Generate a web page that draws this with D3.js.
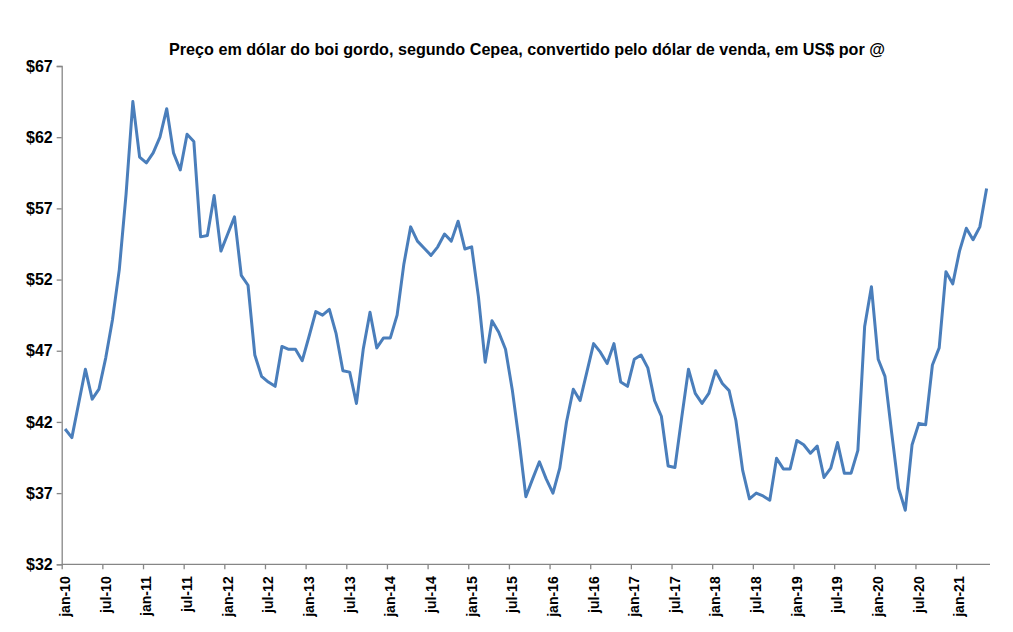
<!DOCTYPE html>
<html>
<head>
<meta charset="utf-8">
<script src="https://cdn.jsdelivr.net/npm/d3@7"></script>
<style>
  html, body { margin: 0; padding: 0; background: #fff; }
  svg { display: block; }
  text { font-family: "Liberation Sans", Arial, sans-serif; font-weight: bold; fill: #000; }
</style>
</head>
<body>
<svg id="chart" width="1013" height="632"></svg>
<script>
const title = "Preço em dólar do boi gordo, segundo Cepea, convertido pelo dólar de venda, em US$ por @";

const monthNames = ["jan","fev","mar","abr","mai","jun","jul","ago","set","out","nov","dez"];
const years = [10,11,12,13,14,15,16,17,18,19,20,21];
// Monthly categories jan-10 .. mai-21
const months = [];
years.forEach(yy => monthNames.forEach((m, i) => { if (yy < 21 || i < 5) months.push(m + "-" + yy); }));

// US$ per @
const prices = [
  41.5, 40.9, 43.3, 45.7, 43.6, 44.3, 46.5, 49.2, 52.7, 58.0, 64.5, 60.6,
  60.2, 60.9, 62.0, 64.0, 60.9, 59.7, 62.2, 61.7, 55.0, 55.1, 57.9, 54.0,
  55.2, 56.4, 52.3, 51.6, 46.7, 45.2, 44.8, 44.5, 47.3, 47.1, 47.1, 46.3,
  48.0, 49.75, 49.5, 49.9, 48.2, 45.6, 45.5, 43.3, 47.1, 49.7, 47.2, 47.9,
  47.9, 49.5, 53.1, 55.7, 54.7, 54.2, 53.7, 54.3, 55.2, 54.7, 56.1, 54.15,
  54.3, 50.8, 46.2, 49.1, 48.3, 47.1, 44.25, 40.7, 36.75, 38.0, 39.2, 38.0,
  37.0, 38.75, 42.0, 44.3, 43.5, 45.5, 47.5, 46.9, 46.1, 47.5, 44.8, 44.5,
  46.4, 46.7, 45.8, 43.5, 42.4, 38.9, 38.8, 42.3, 45.7, 44.0, 43.3, 44.0,
  45.6, 44.7, 44.2, 42.1, 38.6, 36.6, 37.0, 36.8, 36.5, 39.45, 38.7, 38.7,
  40.7, 40.4, 39.8, 40.3, 38.1, 38.75, 40.55, 38.4, 38.4, 40.0, 48.7, 51.5,
  46.4, 45.2, 41.2, 37.35, 35.8, 40.4, 41.9, 41.8, 46.0, 47.2, 52.55, 51.7,
  54.0, 55.6, 54.8, 55.7, 58.4
];

const yTicks = [32, 37, 42, 47, 52, 57, 62, 67];
const xTickLabels = months.filter(m => m.startsWith("jan") || m.startsWith("jul"));

const svg = d3.select("#chart");
const plotLeft = 61.7, plotRight = 990, plotTop = 66, plotBottom = 564.3;
const axisColor = "#868686";

const x = d3.scaleBand().domain(months).range([plotLeft, plotRight]).padding(0);
const y = d3.scaleLinear().domain([32, 67]).range([plotBottom, plotTop]);

// Title
svg.append("text")
  .attr("x", 527).attr("y", 55)
  .attr("text-anchor", "middle")
  .style("font-size", "17px")
  .attr("textLength", 716).attr("lengthAdjust", "spacingAndGlyphs")
  .text(title);

// Y axis
const yAxis = d3.axisLeft(y).tickValues(yTicks).tickSize(5).tickPadding(4)
  .tickFormat(d => "$" + d);
const gy = svg.append("g").attr("transform", `translate(${plotLeft},0)`).call(yAxis);
gy.select(".domain").attr("stroke", axisColor).attr("stroke-width", 1.3);
gy.selectAll(".tick line").attr("stroke", axisColor).attr("stroke-width", 1.3);
gy.selectAll(".tick text").style("font-size", "16px").style("font-family", "'Liberation Sans', Arial, sans-serif").attr("fill", "#000");

// X axis: ticks at category boundaries every 6 months
const xb = d3.scaleLinear().domain([0, months.length]).range([plotLeft, plotRight]);
const boundaryTicks = d3.range(0, months.length, 6);
const gx = svg.append("g").attr("transform", `translate(0,${plotBottom})`)
  .call(d3.axisBottom(xb).tickValues(boundaryTicks).tickSize(5).tickFormat(""));
gx.select(".domain").attr("d", `M${plotLeft},0H${plotRight}`).attr("stroke", axisColor).attr("stroke-width", 1.3);
gx.selectAll(".tick line").attr("stroke", axisColor).attr("stroke-width", 1.3);

// X labels at category centers, rotated
const gxl = svg.append("g").attr("transform", `translate(0,${plotBottom})`)
  .call(d3.axisBottom(x).tickValues(xTickLabels).tickSize(0));
gxl.select(".domain").remove();
gxl.selectAll(".tick text")
  .style("font-size", "14px")
  .style("font-family", "'Liberation Sans', Arial, sans-serif")
  .attr("fill", "#000")
  .attr("transform", "rotate(-90)")
  .attr("text-anchor", "end")
  .attr("x", -12)
  .attr("y", 0)
  .attr("dy", "0.35em");

// Line
const line = d3.line()
  .x((d, i) => x(months[i]) + x.bandwidth() / 2)
  .y(d => y(d));
svg.append("path")
  .datum(prices)
  .attr("fill", "none")
  .attr("stroke", "#4A7EBB")
  .attr("stroke-width", 3)
  .attr("stroke-linejoin", "round")
  .attr("d", line);
</script>
</body>
</html>
